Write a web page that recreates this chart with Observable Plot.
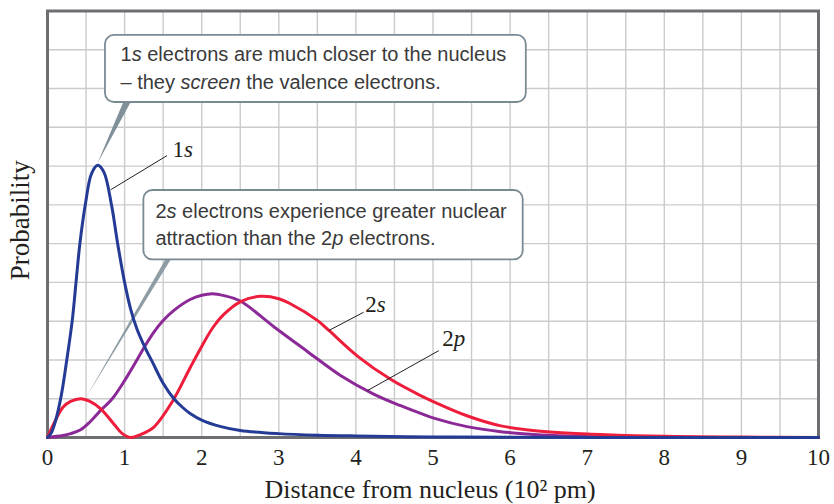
<!DOCTYPE html>
<html><head><meta charset="utf-8">
<script src="https://cdn.jsdelivr.net/npm/d3@7"></script>
<script src="https://cdn.jsdelivr.net/npm/@observablehq/plot@0.6"></script>
<style>
html,body{margin:0;padding:0;background:#fff;}
#chart svg{display:block;}
</style></head><body><div id="chart"></div>
<script>
// ---- data ----
const xTicks = [0, 1, 2, 3, 4, 5, 6, 7, 8, 9, 10];

const x1s = [0, 0.05, 0.1, 0.18, 0.25, 0.32, 0.37, 0.42, 0.49, 0.57, 0.65, 0.73, 0.83, 0.91, 1.0, 1.08, 1.16, 1.27, 1.36, 1.5, 1.64, 1.75, 1.85, 2.0, 2.25, 2.5, 3.0, 3.5, 4.0, 5.0, 6.0, 8.0, 10.0];
const y1s = [0, 0.12, 0.4, 1.1, 2.0, 3.0, 4.0, 5.0, 6.0, 6.8, 7.02, 6.85, 6.0, 5.0, 4.0, 3.3, 2.8, 2.3, 1.95, 1.4, 1.0, 0.78, 0.62, 0.45, 0.28, 0.18, 0.1, 0.06, 0.04, 0.015, 0.005, 0, 0];

const x2s = [0, 0.08, 0.2, 0.3, 0.43, 0.55, 0.69, 0.86, 0.97, 1.08, 1.2, 1.38, 1.62, 1.85, 2.0, 2.15, 2.29, 2.5, 2.76, 3.0, 3.15, 3.5, 3.65, 4.02, 4.45, 4.84, 5.01, 5.44, 5.88, 6.52, 7.17, 8.0, 9.0, 10.0];
const y2s = [0, 0.35, 0.78, 0.93, 1.0, 0.93, 0.74, 0.35, 0.1, 0, 0.07, 0.27, 0.93, 1.8, 2.35, 2.85, 3.18, 3.5, 3.64, 3.58, 3.45, 3.02, 2.76, 2.1, 1.5, 1.08, 0.92, 0.56, 0.3, 0.14, 0.08, 0.03, 0.01, 0];

const x2p = [0, 0.2, 0.3, 0.43, 0.55, 0.69, 0.84, 1.01, 1.16, 1.27, 1.38, 1.5, 1.64, 1.85, 2.0, 2.14, 2.29, 2.5, 2.94, 3.37, 3.8, 4.23, 4.58, 4.84, 5.01, 5.44, 5.88, 6.31, 6.74, 7.5, 8.5, 10];
const y2p = [0, 0.05, 0.1, 0.2, 0.4, 0.7, 1.0, 1.5, 2.0, 2.38, 2.72, 3.02, 3.28, 3.56, 3.67, 3.71, 3.66, 3.52, 2.85, 2.22, 1.6, 1.12, 0.82, 0.62, 0.5, 0.28, 0.15, 0.08, 0.04, 0.01, 0, 0];

const curveLabelText = ["1*s*", "2*s*", "2*p*"];
const calloutText = [
  ["1*s* electrons are much closer to the nucleus", "– they *screen* the valence electrons."],
  ["2*s* electrons experience greater nuclear", "attraction than the 2*p* electrons."]
];
const xTitle = "Distance from nucleus (10² pm)";
const yTitle = "Probability";

// ---- annotation layout (data units) ----
const boxes = [
  {x1: 0.752, x2: 6.21, y1: 8.64, y2: 10.37},
  {x1: 1.25, x2: 6.17, y1: 4.58, y2: 6.37}
];
const calloutLines = [
  {x: 0.947, y: 9.70, text: calloutText[0][0]},
  {x: 0.947, y: 9.00, text: calloutText[0][1]},
  {x: 1.40, y: 5.65, text: calloutText[1][0]},
  {x: 1.40, y: 4.97, text: calloutText[1][1]}
];
const pointer1 = [{y: 8.64, x1: 0.99, x2: 1.086}, {y: 7.04, x1: 0.65, x2: 0.65}];
const pointer2 = [{y: 4.58, x1: 1.535, x2: 1.605}, {y: 1.0, x1: 0.5, x2: 0.5}];
const leaders = [
  {x1: 1.55, y1: 7.27, x2: 0.82, y2: 6.39},
  {x1: 4.10, y1: 3.23, x2: 3.65, y2: 2.76},
  {x1: 5.075, y1: 2.24, x2: 4.15, y2: 1.21}
];
const curveLabels = [
  {x: 1.62, y: 7.23, text: curveLabelText[0]},
  {x: 4.12, y: 3.23, text: curveLabelText[1]},
  {x: 5.12, y: 2.35, text: curveLabelText[2]}
];

const toRows = (xs, ys) => xs.map((x, i) => ({x, y: ys[i]}));
const d1s = toRows(x1s, y1s), d2s = toRows(x2s, y2s), d2p = toRows(x2p, y2p);
const gridX = d3.range(0, 10.001, 0.5);
const gridY = d3.range(0, 11.001, 1);

const serif = "'Liberation Serif', 'Times New Roman', serif";
const sans = "'Liberation Sans', Arial, Helvetica, sans-serif";

const chart = Plot.plot({
  width: 834, height: 504,
  marginLeft: 47, marginRight: 16, marginTop: 10.5, marginBottom: 67,
  style: {fontFamily: serif, fontSize: "23px", color: "#231f20", background: "#fff"},
  x: {domain: [0, 10], ticks: xTicks, tickSize: 0, tickPadding: 11, tickFormat: d => String(d), label: null},
  y: {domain: [0, 11], axis: null},
  marks: [
    Plot.ruleX(gridX, {stroke: "#cbcbcb", strokeWidth: 1.4}),
    Plot.ruleY(gridY, {stroke: "#cbcbcb", strokeWidth: 1.4}),
    Plot.frame({stroke: "#6d6e71", strokeWidth: 3}),
    Plot.areaX(pointer1, {y: "y", x1: "x1", x2: "x2", fill: "#7f9098"}),
    Plot.areaX(pointer2, {y: "y", x1: "x1", x2: "x2", fill: "#8e9ca4"}),
    Plot.line(d2p, {x: "x", y: "y", stroke: "#8b2a97", strokeWidth: 3, curve: "catmull-rom"}),
    Plot.line(d2s, {x: "x", y: "y", stroke: "#ee1d3c", strokeWidth: 3, curve: "catmull-rom"}),
    Plot.line(d1s, {x: "x", y: "y", stroke: "#243b96", strokeWidth: 3, curve: "catmull-rom"}),
    Plot.rect(boxes, {x1: "x1", x2: "x2", y1: "y1", y2: "y2", fill: "#fff", stroke: "#7a8a94", strokeWidth: 1.8, rx: 9}),
    Plot.text(calloutLines, {x: "x", y: "y", text: "text", textAnchor: "start", lineAnchor: "bottom", fontFamily: sans, fontSize: 20, fill: "#3a3a3a"}),
    Plot.link(leaders, {x1: "x1", y1: "y1", x2: "x2", y2: "y2", stroke: "#231f20", strokeWidth: 1}),
    Plot.text(curveLabels, {x: "x", y: "y", text: "text", textAnchor: "start", lineAnchor: "bottom", fontSize: 23, fill: "#231f20"}),
    Plot.text([xTitle], {frameAnchor: "bottom", textAnchor: "middle", lineAnchor: "bottom", dx: -3, dy: 60, fontSize: 26, fill: "#231f20"}),
    Plot.text([yTitle], {frameAnchor: "left", textAnchor: "middle", lineAnchor: "middle", rotate: -90, dx: -27, dy: -4, fontSize: 27, fill: "#231f20"})
  ]
});

// italic segments marked with *...*
d3.select(chart).selectAll("text").each(function() {
  const t = this.textContent;
  if (!t.includes("*")) return;
  const parts = t.split("*");
  while (this.firstChild) this.removeChild(this.firstChild);
  parts.forEach((p, i) => {
    if (!p) return;
    const ts = document.createElementNS("http://www.w3.org/2000/svg", "tspan");
    ts.textContent = p;
    if (i % 2) ts.setAttribute("font-style", "italic");
    this.appendChild(ts);
  });
});

document.getElementById("chart").appendChild(chart);
</script>
</body></html>
